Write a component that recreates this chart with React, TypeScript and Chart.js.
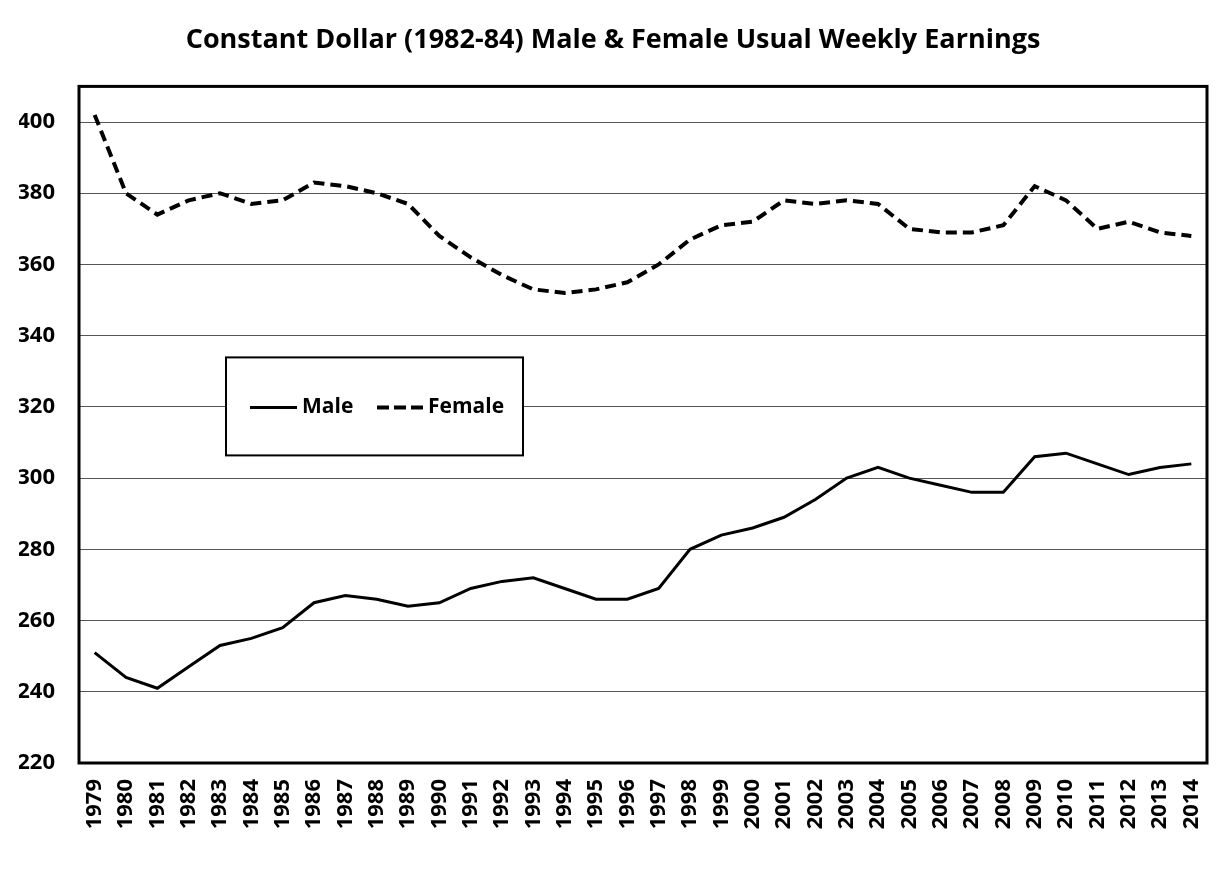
import React, { useEffect, useRef } from "react";
import { Chart, registerables } from "chart.js";

Chart.register(...registerables);

const years: string[] = [
  "1979", "1980", "1981", "1982", "1983", "1984", "1985", "1986", "1987", "1988",
  "1989", "1990", "1991", "1992", "1993", "1994", "1995", "1996", "1997", "1998",
  "1999", "2000", "2001", "2002", "2003", "2004", "2005", "2006", "2007", "2008",
  "2009", "2010", "2011", "2012", "2013", "2014",
];

const maleValues: number[] = [
  251, 244, 241, 247, 253, 255, 258, 265, 267, 266,
  264, 265, 269, 271, 272, 269, 266, 266, 269, 280,
  284, 286, 289, 294, 300, 303, 300, 298, 296, 296,
  306, 307, 304, 301, 303, 304,
];

const femaleValues: number[] = [
  402, 380, 374, 378, 380, 377, 378, 383, 382, 380,
  377, 368, 362, 357, 353, 352, 353, 355, 360, 367,
  371, 372, 378, 377, 378, 377, 370, 369, 369, 371,
  382, 378, 370, 372, 369, 368,
];

const titleText = "Constant Dollar (1982-84) Male & Female Usual Weekly Earnings";
const FONT = "'Open Sans', 'DejaVu Sans', sans-serif";

const frameAndLegend = {
  id: "frameAndLegend",
  afterDraw(chart: any) {
    const ctx = chart.ctx as CanvasRenderingContext2D;
    const a = chart.chartArea;
    ctx.save();
    // plot border
    ctx.strokeStyle = "#000";
    ctx.lineWidth = 3;
    ctx.strokeRect(a.left, a.top, a.right - a.left, a.bottom - a.top);

    // legend box
    const bx = a.left + 147;
    const by = a.top + 271;
    const bw = 297;
    const bh = 98;
    ctx.fillStyle = "#fff";
    ctx.fillRect(bx, by, bw, bh);
    ctx.lineWidth = 2;
    ctx.strokeRect(bx, by, bw, bh);

    const ly = by + 50;
    const ds = chart.data.datasets;
    ctx.font = `bold 21px ${FONT}`;
    ctx.fillStyle = "#000";
    ctx.textBaseline = "middle";
    ctx.textAlign = "left";

    // Male (solid)
    ctx.beginPath();
    ctx.lineWidth = ds[0].borderWidth;
    ctx.setLineDash([]);
    ctx.moveTo(bx + 24, ly);
    ctx.lineTo(bx + 71, ly);
    ctx.stroke();
    ctx.fillText(ds[0].label, bx + 76, ly);

    // Female (dashed)
    ctx.beginPath();
    ctx.lineWidth = ds[1].borderWidth;
    ctx.setLineDash([12, 5]);
    ctx.moveTo(bx + 151, ly);
    ctx.lineTo(bx + 197, ly);
    ctx.stroke();
    ctx.setLineDash([]);
    ctx.fillText(ds[1].label, bx + 202, ly);
    ctx.restore();
  },
};

export default function App() {
  const ref = useRef<HTMLCanvasElement | null>(null);

  useEffect(() => {
    if (!ref.current) return;
    const chart = new Chart(ref.current, {
      type: "line",
      data: {
        labels: years,
        datasets: [
          {
            label: "Male",
            data: maleValues,
            borderColor: "#000",
            borderWidth: 3,
            pointRadius: 0,
            tension: 0,
            fill: false,
          },
          {
            label: "Female",
            data: femaleValues,
            borderColor: "#000",
            borderWidth: 4,
            borderDash: [11, 6],
            pointRadius: 0,
            tension: 0,
            fill: false,
          },
        ],
      },
      options: {
        responsive: false,
        animation: false,
        layout: { padding: { left: 11, right: 5, top: 0, bottom: 0 } },
        plugins: {
          legend: { display: false },
          tooltip: { enabled: false },
          title: {
            display: true,
            text: titleText,
            color: "#000",
            font: { family: FONT, size: 27, weight: "bold" },
            padding: { top: 16, bottom: 30 },
          },
        },
        scales: {
          x: {
            type: "category",
            offset: true,
            grid: { display: false, drawTicks: false },
            border: { display: false },
            ticks: {
              color: "#000",
              font: { family: FONT, size: 22, weight: "bold" },
              minRotation: 90,
              maxRotation: 90,
              autoSkip: false,
              padding: 16,
            },
            afterFit(scale: any) {
              scale.height = 117;
              scale.paddingLeft = 0;
              scale.paddingRight = 0;
            },
          },
          y: {
            type: "linear",
            min: 220,
            max: 410,
            grid: { color: "#555", lineWidth: 1, drawTicks: false },
            border: { display: false },
            ticks: {
              stepSize: 20,
              includeBounds: false,
              color: "#000",
              font: { family: FONT, size: 22, weight: "bold" },
              padding: 24,
            },
            afterFit(scale: any) {
              scale.width = 60;
              scale.paddingTop = 0;
              scale.paddingBottom = 0;
            },
          },
        },
      },
      plugins: [frameAndLegend],
    });
    return () => chart.destroy();
  }, []);

  return (
    <div style={{ position: "relative", width: 1204, height: 872 }}>
      <div
        style={{
          position: "absolute",
          left: -2,
          top: -2,
          width: 1206,
          height: 874,
          borderLeft: "2px solid #dcdcdc",
          borderTop: "2px solid #dcdcdc",
          pointerEvents: "none",
        }}
      />
      <canvas ref={ref} width={1204} height={872} style={{ display: "block" }} />
    </div>
  );
}
